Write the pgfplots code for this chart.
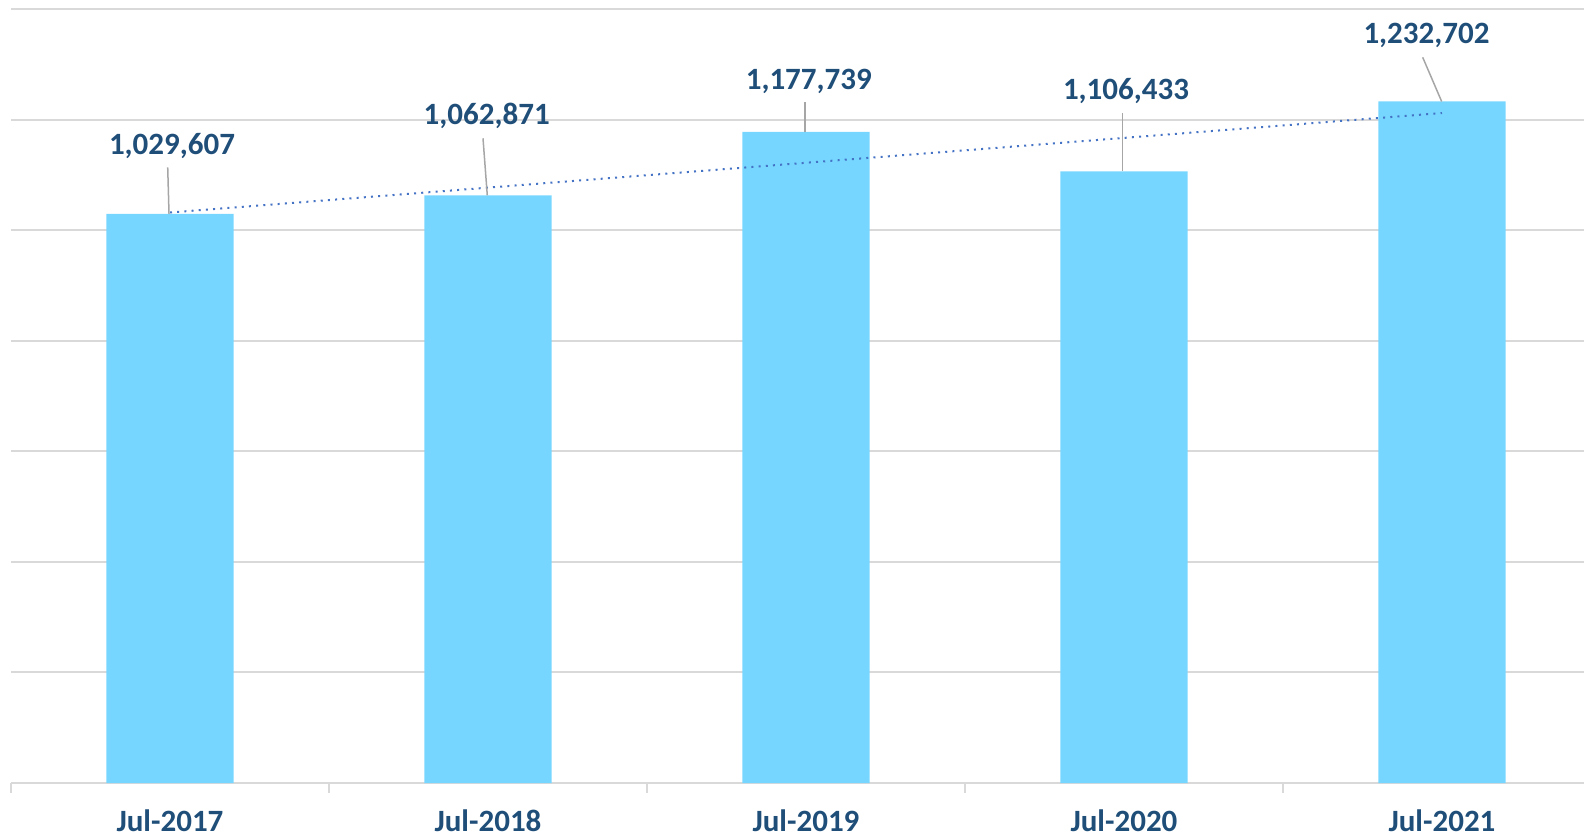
\documentclass[border=0pt]{standalone}
\usepackage{fontspec}
\setmainfont{Carlito}
\usepackage{pgfplots}
\pgfplotsset{compat=1.18}
\definecolor{barblue}{HTML}{76D6FF}
\definecolor{lblblue}{HTML}{1F4E79}
\definecolor{gridgray}{HTML}{D9D9D9}
\definecolor{leadergray}{HTML}{A6A6A6}
\definecolor{trendblue}{HTML}{4472C4}
\newcommand{\lblfont}{\bfseries\fontsize{31}{37}\selectfont}
\begin{document}
\begin{tikzpicture}
\useasboundingbox (-11pt,-55pt) rectangle (1573pt,783pt);
\begin{axis}[
 at={(0pt,0pt)}, anchor=south west,
 scale only axis, width=1590pt, height=774pt,
 xmin=-0.5, xmax=4.5, ymin=0, ymax=1400000,
 axis x line*=bottom, axis y line*=left,
 x axis line style={-, draw=gridgray, line width=2pt},
 y axis line style={draw=none},
 xtick={0,1,2,3,4}, xticklabels={Jul-2017,Jul-2018,Jul-2019,Jul-2020,Jul-2021},
 minor xtick={-0.5,0.5,1.5,2.5,3.5,4.5},
 major tick length=0pt, minor tick length=10pt, tick align=outside,
 ytick={0,200000,400000,600000,800000,1000000,1200000,1400000}, yticklabels={},
 ymajorgrids, grid style={draw=gridgray, line width=2pt},
 minor tick style={draw=gridgray, line width=1.3pt},
 xticklabel style={font=\lblfont, text=lblblue, anchor=base, yshift=-48.7pt},
 clip=false,
 scaled y ticks=false,
]
\addplot[ybar, bar width=0.4, fill=barblue, draw=none] coordinates {(0,1029607) (1,1062871) (2,1177739) (3,1106433) (4,1232702)};
\addplot[trendblue, line width=2pt, dash pattern=on 2pt off 5.2pt, mark=none] coordinates {(0,1031920) (4,1211821)};
\draw[leadergray, line width=1.5pt] (axis cs:-0.0072,1113678) -- (axis cs:-0.0031,1029607);
\draw[leadergray, line width=1.5pt] (axis cs:0.9843,1166133) -- (axis cs:0.9978,1062871);
\draw[leadergray, line width=1.5pt] (axis cs:1.9969,1231250) -- (axis cs:1.9969,1177739);
\draw[leadergray, line width=1.5pt] (axis cs:2.9959,1211353) -- (axis cs:2.9959,1106433);
\draw[leadergray, line width=1.5pt] (axis cs:3.9393,1312646) -- (axis cs:3.999,1232702);
\node[anchor=base, font=\lblfont, text=lblblue] at (axis cs:0.0063,1135926) {1,029,607};
\node[anchor=base, font=\lblfont, text=lblblue] at (axis cs:0.9959,1190190) {1,062,871};
\node[anchor=base, font=\lblfont, text=lblblue] at (axis cs:2.0088,1254765) {1,177,739};
\node[anchor=base, font=\lblfont, text=lblblue] at (axis cs:3.0063,1235410) {1,106,433};
\node[anchor=base, font=\lblfont, text=lblblue] at (axis cs:3.9513,1336703) {1,232,702};
\end{axis}
\end{tikzpicture}
\end{document}
